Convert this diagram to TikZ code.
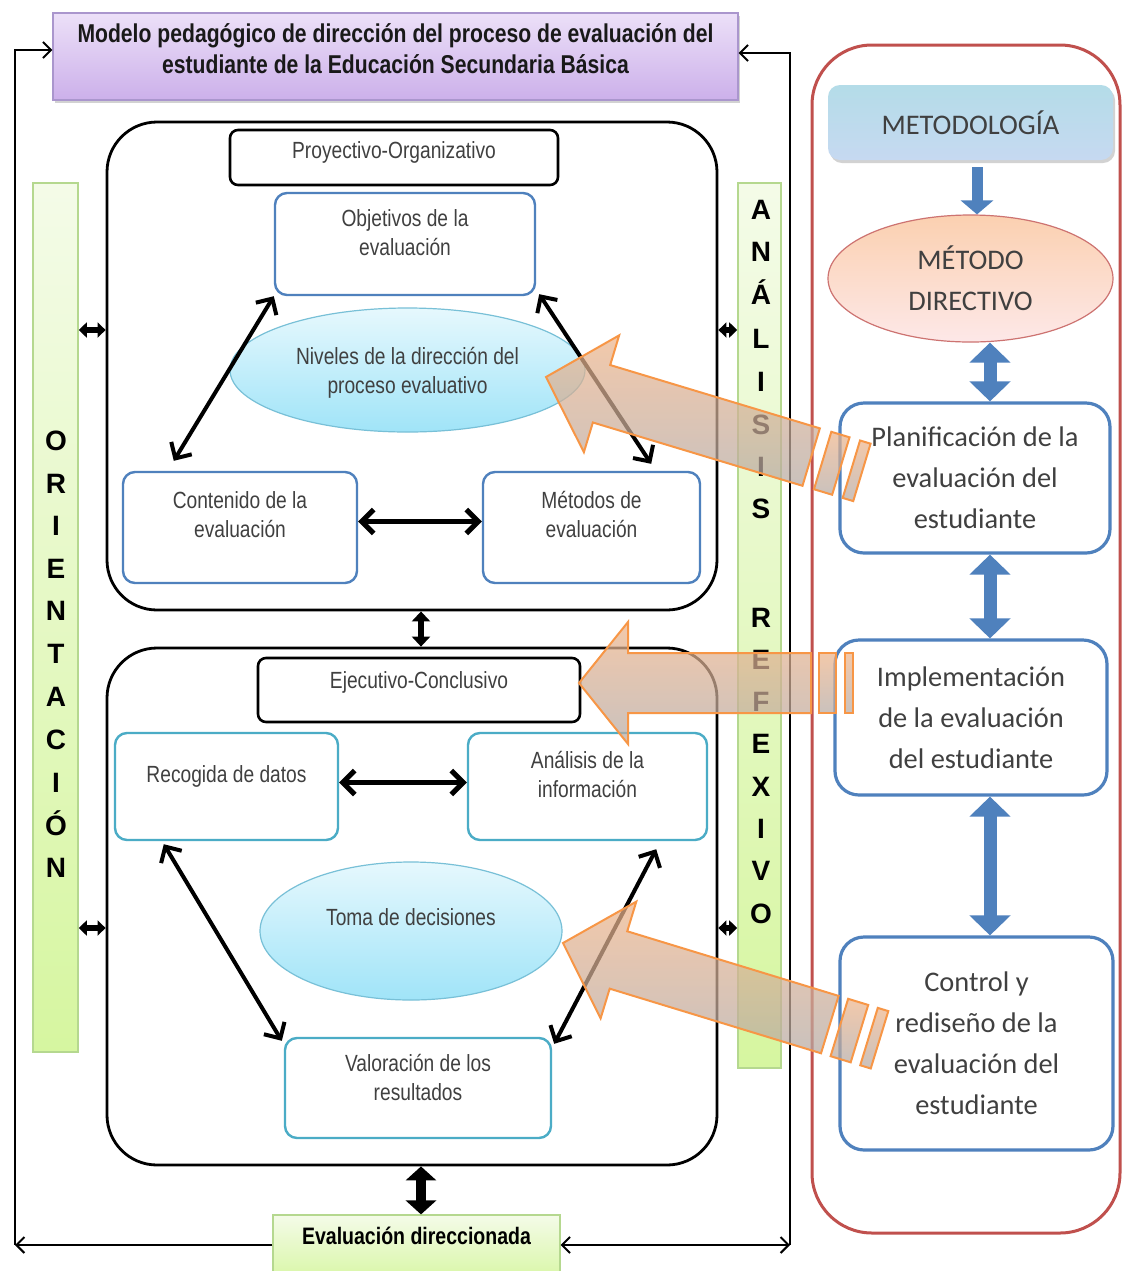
\documentclass[tikz,border=0pt]{standalone}
\usepackage{fontspec}
\setmainfont{Liberation Sans}
\newfontfamily\narrowfont[FakeStretch=0.82]{Liberation Sans}
\newfontfamily\calfont{Carlito}
\usepackage{tikz}
\usetikzlibrary{calc}
\usetikzlibrary{positioning}
\usetikzlibrary{arrows.meta}
\usetikzlibrary{shapes.geometric}
\usetikzlibrary{shadows}

\definecolor{boxblue}{RGB}{79,129,189}
\definecolor{boxcyan}{RGB}{75,172,198}
\definecolor{panelred}{RGB}{192,80,77}
\definecolor{textgray}{RGB}{64,64,64}
\definecolor{barborder}{RGB}{181,216,143}
\definecolor{bartop}{RGB}{244,251,232}
\definecolor{barbottom}{RGB}{214,246,160}
\definecolor{lilatop}{RGB}{236,224,248}
\definecolor{lilabottom}{RGB}{204,176,234}
\definecolor{lilaborder}{RGB}{170,150,205}
\definecolor{celtop}{RGB}{230,248,253}
\definecolor{celbottom}{RGB}{160,228,248}
\definecolor{celborder}{RGB}{120,192,215}
\definecolor{orangeline}{RGB}{247,150,70}
\definecolor{orangetop}{RGB}{238,180,138}
\definecolor{orangebottom}{RGB}{182,170,164}
\definecolor{peachtop}{RGB}{251,208,176}
\definecolor{peachbottom}{RGB}{253,232,232}
\definecolor{metodtop}{RGB}{180,220,232}
\definecolor{metodbottom}{RGB}{198,217,241}

\begin{document}
\begin{tikzpicture}[x=0.5pt,y=-0.5pt]
  \tikzstyle{stageframe}=[draw,line width=1.4pt,rounded corners=25pt,minimum width=305pt]
  \tikzstyle{headbox}=[draw,line width=1.3pt,rounded corners=4pt,fill=white]
  \tikzstyle{bluebox}=[draw=boxblue,line width=1.2pt,rounded corners=6pt,fill=white]
  \tikzstyle{cyanbox}=[draw=boxcyan,line width=1.2pt,rounded corners=6pt,fill=white]
  \tikzstyle{boxtext}=[font=\narrowfont\fontsize{11.7}{14.5}\selectfont,text=textgray,align=center]
  \tikzstyle{bubble}=[ellipse,draw=celborder,line width=0.6pt,top color=celtop,bottom color=celbottom,inner sep=0pt]
  \tikzstyle{sidebar}=[draw=barborder,line width=0.8pt,top color=bartop,bottom color=barbottom]
  \tikzstyle{barletter}=[font=\bfseries\fontsize{14}{14}\selectfont,text height=10pt,text depth=0pt,inner sep=0pt]
  \tikzstyle{twoway}=[{Straight Barb[length=6pt,width=12pt]}-{Straight Barb[length=6pt,width=12pt]},line width=2pt]
  \tikzstyle{stub}=[{Triangle[length=4pt,width=7.5pt]}-{Triangle[length=4pt,width=7.5pt]},line width=3pt]
  \tikzstyle{loopline}=[line width=1pt]
  \tikzstyle{bluearrow}=[draw=boxblue,line width=6.5pt,{Triangle[length=10pt,width=20pt]}-{Triangle[length=10pt,width=20pt]}]
  \tikzstyle{rightbox}=[draw=boxblue,line width=1.6pt,rounded corners=12pt,font=\calfont\fontsize{14.2}{20.5}\selectfont,text=textgray,align=center]
  \tikzstyle{orangearrow}=[draw=orangeline,line width=1pt,top color=orangetop,bottom color=orangebottom,fill opacity=0.72,line join=miter]

  \useasboundingbox (0,0) rectangle (1123,1271);
  \clip (0,0) rectangle (1123,1271);
  \fill[white] (0,0) rectangle (1123,1271);

  % title and green side bars
  \node[draw=lilaborder,line width=0.6pt,top color=lilatop,bottom color=lilabottom,
        drop shadow={shadow xshift=1pt,shadow yshift=-1.5pt,opacity=0.35},
        minimum width=342.5pt,minimum height=43.5pt] (title) at (395.5,56.5) {};
  \node[align=center,font=\narrowfont\bfseries\fontsize{12.9}{15.5}\selectfont,text=black!90] (titlet) at (395.5,48.5)
        {Modelo pedagógico de dirección del proceso de evaluación del\\estudiante de la Educación Secundaria Básica};
  \node[sidebar,minimum width=22.5pt,minimum height=434.5pt] (orient) at (55.5,617.5) {};
  \node[sidebar,minimum width=21.5pt,minimum height=442.5pt] (refl) at (759.5,625.5) {};
  \foreach \y/\l/\n in {440/O/1,483/R/2,525/I/3,568/E/4,610/N/5,653/T/6,696/A/7,739/C/8,782/I/9,825/Ó/10,867/N/11}
    \node[barletter] (or\n) at (56,\y) {\l};
  \foreach \y/\l/\n in {209/A/1,251/N/2,294/Á/3,338/L/4,381/I/5,424/S/6,466/I/7,508/S/8,617/R/9,659/E/10,701/F/11,743/E/12,786/X/13,828/I/14,870/V/15,913/O/16}
    \node[barletter] (an\n) at (761,\y) {\l};

  % evaluacion direccionada and outer loop
  \node[draw=barborder,line width=0.6pt,top color=bartop,bottom color=barbottom,
        minimum width=143.5pt,minimum height=35pt] (evalbox) at (416.5,1250) {};
  \node[font=\narrowfont\bfseries\fontsize{11.9}{14}\selectfont] (evalt) at (416.5,1236) {Evaluación direccionada};
  \draw[loopline,-{Straight Barb[length=4pt,width=8pt]}] (evalbox.west |- 0,1245) -- (15,1245);
  \draw[loopline,-{Straight Barb[length=4pt,width=8pt]}] (15,1245) -- (15,50) -- (title.west |- 0,50);
  \draw[loopline,-{Straight Barb[length=4pt,width=8pt]}] (790,1245) -- (790,53) -- (title.east |- 0,53);
  \draw[loopline,{Straight Barb[length=4pt,width=8pt]}-{Straight Barb[length=4pt,width=8pt]}] (evalbox.east |- 0,1245) -- (790,1245);

  % proyectivo-organizativo
  \node[stageframe,minimum height=244pt] (proy) at (412,366) {};
  \node[headbox,minimum width=164pt,minimum height=27.5pt] (proyhead) at (394,157.5) {};
  \node[boxtext] (proyt) at (394,152) {Proyectivo-Organizativo};
  \node[bluebox,minimum width=130pt,minimum height=51pt] (obj) at (405,244) {};
  \node[boxtext] (objt) at ([yshift=5.5pt]obj.center) {Objetivos de la\\evaluación};
  \node[bluebox,minimum width=117pt,minimum height=55.5pt] (cont) at (240,527.5) {};
  \node[boxtext] (contt) at ([yshift=6.5pt]cont.center) {Contenido de la\\evaluación};
  \node[bluebox,minimum width=108.5pt,minimum height=55.5pt] (met) at (591.5,527.5) {};
  \node[boxtext] (mett) at ([yshift=6.5pt]met.center) {Métodos de\\evaluación};
  \node[bubble,minimum width=177.5pt,minimum height=62pt] (niv) at (407.5,370) {};
  \node[boxtext] (nivt) at ([yshift=-1.5pt]niv.center) {Niveles de la dirección del\\proceso evaluativo};
  \draw[twoway] (obj.south west) -- ([shift={(52,-10)}]cont.north west);
  \draw[twoway] ([shift={(3,-2)}]obj.south east) -- ([shift={(-50,-7)}]met.north east);
  \draw[twoway,line width=2.5pt] ([yshift=3pt]cont.east) -- ([yshift=3pt]met.west);

  % ejecutivo-conclusivo
  \node[stageframe,minimum height=258.5pt] (ejec) at (412,906.5) {};
  \node[headbox,minimum width=161pt,minimum height=32pt] (ejechead) at (419,690) {};
  \node[boxtext] (eject) at (419,682) {Ejecutivo-Conclusivo};
  \node[cyanbox,minimum width=111.5pt,minimum height=53.5pt] (recog) at (226.5,786.5) {};
  \node[boxtext] (recogt) at ([yshift=5pt]recog.center) {Recogida de datos};
  \node[cyanbox,minimum width=119.5pt,minimum height=53.5pt] (anal) at (587.5,786.5) {};
  \node[boxtext] (analt) at ([yshift=6pt]anal.center) {Análisis de la\\información};
  \node[cyanbox,minimum width=133pt,minimum height=50pt] (val) at (418,1088) {};
  \node[boxtext] (valt) at ([yshift=5.5pt]val.center) {Valoración de los\\resultados};
  \node[bubble,minimum width=151pt,minimum height=69pt] (toma) at (411,931) {};
  \node[boxtext] (tomat) at ([yshift=7pt]toma.center) {Toma de decisiones};
  \draw[twoway,line width=2.5pt] ([yshift=2pt]recog.east) -- ([yshift=2pt]anal.west);
  \draw[twoway] ([shift={(50,3)}]recog.south west) -- ([shift={(-2,4)}]val.north west);
  \draw[twoway] ([shift={(-52,8)}]anal.south east) -- ([shift={(2,7)}]val.north east);

  % links between stages and bars
  \draw[{Triangle[length=5pt,width=9pt]}-{Triangle[length=5pt,width=9pt]},line width=3pt] (proy.south -| 421,0) -- (ejec.north -| 421,0);
  \draw[{Triangle[length=7pt,width=15pt]}-{Triangle[length=7pt,width=15pt]},line width=5pt] (ejec.south -| 421,0) -- (evalbox.north -| 421,0);
  \foreach \y in {330,928} {
    \draw[stub] (orient.east |- 0,\y) -- (proy.west |- 0,\y);
    \draw[stub] (proy.east |- 0,\y) -- (refl.west |- 0,\y);
  }

  % metodologia panel
  \node[draw=panelred,line width=1.5pt,rounded corners=30pt,minimum width=154pt,minimum height=594pt] (panel) at (966,639) {};
  \node[rounded corners=6pt,top color=metodtop,bottom color=metodbottom,
        drop shadow={shadow xshift=1pt,shadow yshift=-1.5pt,opacity=0.35},
        minimum width=142.5pt,minimum height=37.5pt,font=\calfont\fontsize{14.2}{20.5}\selectfont,text=textgray] (metod) at (970.5,122.5) {METODOLOGÍA};
  \node[ellipse,draw=panelred!80,line width=0.6pt,top color=peachtop,bottom color=peachbottom,inner sep=0pt,
        minimum width=142.5pt,minimum height=63.5pt,align=center,font=\calfont\fontsize{14.2}{20.5}\selectfont,text=textgray] (metdir) at (970.5,278.5) {MÉTODO\\DIRECTIVO};
  \node[rightbox,minimum width=135pt,minimum height=75pt] (plan) at (975,478) {Planificación de la\\evaluación del\\estudiante};
  \node[rightbox,minimum width=136pt,minimum height=77.5pt] (impl) at (971,717.5) {Implementación\\de la evaluación\\del estudiante};
  \node[rightbox,minimum width=136.5pt,minimum height=106.5pt] (ctrl) at (976.5,1043.5) {Control y\\rediseño de la\\evaluación del\\estudiante};
  \draw[draw=boxblue,line width=5.5pt,-{Triangle[length=7pt,width=16pt]}] (metod.south -| 977,0) ++(0,7) -- (metdir.north -| 977,0);
  \draw[bluearrow] (metdir.south -| 990,0) -- (plan.north -| 990,0);
  \draw[bluearrow] (plan.south -| 990,0) -- (impl.north -| 990,0);
  \draw[bluearrow] (impl.south -| 990,0) -- (ctrl.north -| 990,0);

  % orange arrows
  \foreach \px/\py/\ang/\len/\sa/\sb/\sc/\sd/\hd in {546/377/-16.8/277/289/308/319/330/58, 579/683/0/232/240/257/266/274/49, 563/943/-17/279/289/310/320/331/58} {
    \begin{scope}[shift={(\px,\py)},rotate=\ang]
      \shadedraw[orangearrow] (0,0) -- (\hd,-61) -- (\hd,-30) -- (\len,-30) -- (\len,30) -- (\hd,30) -- (\hd,61) -- cycle;
      \shadedraw[orangearrow] (\sa,-30) rectangle (\sb,30);
      \shadedraw[orangearrow] (\sc,-30) rectangle (\sd,30);
    \end{scope}
  }
\end{tikzpicture}
\end{document}
